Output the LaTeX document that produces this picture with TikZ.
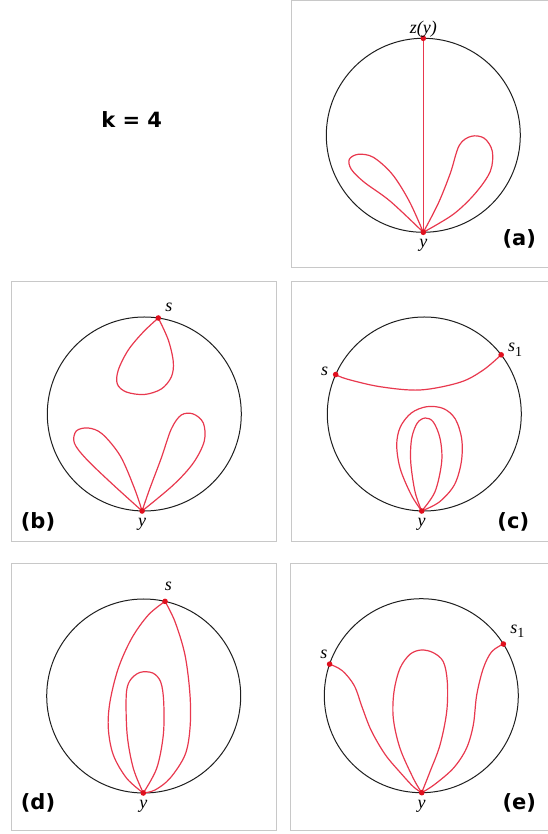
\documentclass[tikz,border=0pt]{standalone}
\usepackage{fontspec}
\usepackage{tikz}
\usetikzlibrary{positioning,calc}
\newfontfamily\tagfont{DejaVu Sans}
\newfontfamily\varfont{Liberation Serif}
\definecolor{kframe}{HTML}{C8C8C8}
\definecolor{kink}{HTML}{1E1E1E}
\definecolor{kred}{HTML}{E8384E}
\definecolor{kdot}{HTML}{E0101E}

\begin{document}
\begin{tikzpicture}[x=1pt,y=1pt,
    panel/.style={draw=kframe,line width=0.9pt},
    rim/.style={draw=kink,line width=1pt},
    redline/.style={draw=kred,line width=1.2pt,line join=round},
    tag/.style={font=\tagfont\bfseries\fontsize{21}{24}\selectfont,inner sep=1pt},
    var/.style={font=\varfont\itshape\fontsize{18}{20}\selectfont,inner sep=1pt}]
  \useasboundingbox (0,0) rectangle (547,834);

  % frames of the five panels
  \draw[panel] (291.5,567) rectangle (560,833.5);
  \draw[panel] (11.7,293) rectangle (276.7,553);
  \draw[panel] (291.5,293) rectangle (560,553);
  \draw[panel] (11.7,4) rectangle (276.7,271);
  \draw[panel] (290.5,4) rectangle (560,271);

  \node[tag] (kval) at (131.7,714.7) {k = 4};

  % (a) chord from y up to z(y), two petals
  \begin{scope}[shift={(423.3,698.7)}]
    \draw[rim] (0,0) circle (97);
    \coordinate (a-y) at (0,-97);
    \coordinate (a-z) at (0,97);
    \draw[redline] (a-y) -- (a-z);
    \draw[redline] plot[smooth,tension=0.55] coordinates {(a-y) (-33,-66) (-59,-47) (-72,-34) (-74,-24) (-65,-19) (-50,-22) (-31,-39) (-14,-66) (a-y)};
    \draw[redline] plot[smooth,tension=0.55] coordinates {(a-y) (15,-68) (27,-38) (36,-10) (48,-1) (61,-3) (69,-16) (67,-36) (52,-58) (30,-79) (a-y)};
    \fill[kdot] (a-y) circle (2.8) (a-z) circle (2.8);
    \node[var,above=0pt of a-z] (a-zl) {z(y)};
    \node[var,below=6pt of a-y] (a-yl) {y};
    \node[tag] (a-tag) at (96,-104) {(a)};
  \end{scope}

  % (b) loop hanging from s
  \begin{scope}[shift={(144.3,420)}]
    \draw[rim] (0,0) circle (97);
    \coordinate (b-y) at (-2.2,-97);
    \coordinate (b-s) at (14,96);
    \draw[redline] plot[smooth,tension=0.55] coordinates {(b-s) (-1,82) (-16,64) (-26,44) (-27,30) (-18,22) (0,19.5) (17,25) (27,37) (29,52) (24,74) (b-s)};
    \draw[redline] plot[smooth,tension=0.55] coordinates {(b-y) (-32,-70) (-58,-45) (-70,-29) (-68,-17) (-56,-14) (-42,-20) (-24,-42) (-10,-74) (b-y)};
    \draw[redline] plot[smooth,tension=0.55] coordinates {(b-y) (5,-76) (17,-44) (27,-15) (37,-1) (49,0) (59,-9) (60,-27) (49,-49) (29,-71) (b-y)};
    \fill[kdot] (b-y) circle (2.8) (b-s) circle (2.8);
    \node[var] (b-sl) at ($(b-s)+(10.5,11)$) {s};
    \node[var,below=6pt of b-y] (b-yl) {y};
    \node[tag] (b-tag) at (-106.3,-107.7) {(b)};
  \end{scope}

  % (c) arc s to s1, nested loops at y
  \begin{scope}[shift={(424.3,420)}]
    \draw[rim] (0,0) circle (97);
    \coordinate (c-y) at (-2.6,-97);
    \coordinate (c-s) at (156:97);
    \coordinate (c-s1) at (37.6:97);
    \draw[redline] plot[smooth,tension=0.55] coordinates {(c-s) (-77.6,35) (-44.3,27.3) (-4.3,24) (35.7,31.7) (59,44) (c-s1)};
    \draw[redline] plot[smooth,tension=0.55] coordinates {(c-y) (-13,-81) (-24,-55) (-27.6,-31) (-24,-13) (-13,1) (2.4,7.3) (19,5.5) (31,-5) (37.4,-25) (37,-48) (30,-71) (15,-88) (c-y)};
    \draw[redline] plot[smooth,tension=0.55] coordinates {(c-y) (-9.3,-77.7) (-13.6,-47.7) (-12.6,-24.3) (-7,-9) (1,-4) (9,-8) (15.7,-24.3) (17.4,-47.7) (10.7,-77.7) (c-y)};
    \fill[kdot] (c-y) circle (2.8) (c-s) circle (2.8) (c-s1) circle (2.8);
    \node[var] (c-sl) at ($(c-s)+(-11,3)$) {s};
    \node[var] (c-s1l) at ($(c-s1)+(14,5)$) {s\raisebox{-0.25em}{\upshape\fontsize{14}{16}\selectfont 1}};
    \node[var,below=6pt of c-y] (c-yl) {y};
    \node[tag] (c-tag) at (89,-108) {(c)};
  \end{scope}

  % (d) s joined to y by two arcs, loop inside
  \begin{scope}[shift={(143.7,138)}]
    \draw[rim] (0,0) circle (97);
    \coordinate (d-y) at (-0.4,-97);
    \coordinate (d-s) at (77.3:97);
    \draw[redline] plot[smooth,tension=0.55] coordinates {(d-s) (4.6,81) (-12,57.7) (-25.4,27.7) (-33.7,-5.7) (-35.4,-32.3) (-30.4,-59) (-17,-82.3) (d-y)};
    \draw[redline] plot[smooth,tension=0.55] coordinates {(d-s) (31.3,74.3) (41.3,41) (46.3,1) (46.3,-32.3) (41.3,-59) (26.3,-82.3) (11.3,-94) (d-y)};
    \draw[redline] plot[smooth,tension=0.55] coordinates {(d-y) (-10.4,-72.3) (-16.5,-39) (-17.5,0) (-14,15) (-4,23.5) (9,23) (17,14) (20,-6) (19.6,-39) (13,-72.3) (d-y)};
    \fill[kdot] (d-y) circle (2.8) (d-s) circle (2.8);
    \node[var] (d-sl) at ($(d-s)+(3.4,14.6)$) {s};
    \node[var,below=6pt of d-y] (d-yl) {y};
    \node[tag] (d-tag) at (-105.7,-107.3) {(d)};
  \end{scope}

  % (e) s and s1 both joined to y, loop between
  \begin{scope}[shift={(421.3,138.3)}]
    \draw[rim] (0,0) circle (97);
    \coordinate (e-y) at (0.4,-97);
    \coordinate (e-s) at (161:97);
    \coordinate (e-s1) at (32.2:97);
    \draw[redline] plot[smooth,tension=0.55] coordinates {(e-s) (-79,25) (-67,10) (-59,-12) (-50,-35) (-36,-59) (-20,-78) (-8,-91) (e-y)};
    \draw[redline] plot[smooth,tension=0.55] coordinates {(e-s1) (70.4,44) (62,27.4) (55.4,0.7) (52,-29.3) (45,-53) (32,-72.6) (13,-89) (e-y)};
    \draw[redline] plot[smooth,tension=0.55] coordinates {(e-y) (-8,-82.6) (-21.3,-52.6) (-28,-22.6) (-27.3,4) (-21.3,27.4) (-11.3,41.4) (0,45.7) (12,43) (22,34) (26,14) (25.4,-16) (18.7,-49.3) (8.7,-76) (e-y)};
    \fill[kdot] (e-y) circle (2.8) (e-s) circle (2.8) (e-s1) circle (2.8);
    \node[var] (e-sl) at ($(e-s)+(-5.7,10)$) {s};
    \node[var] (e-s1l) at ($(e-s1)+(14,13)$) {s\raisebox{-0.25em}{\upshape\fontsize{14}{16}\selectfont 1}};
    \node[var,below=6pt of e-y] (e-yl) {y};
    \node[tag] (e-tag) at (98,-107.6) {(e)};
  \end{scope}
\end{tikzpicture}
\end{document}
